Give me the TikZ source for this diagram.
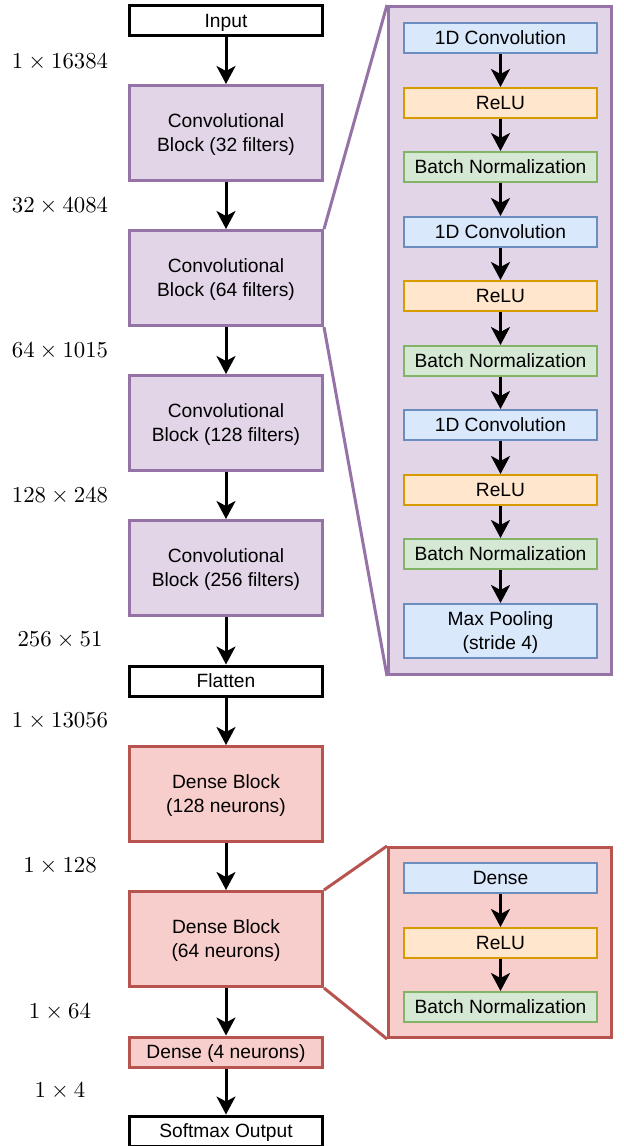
\RequirePackage{fix-cm}
\documentclass[tikz,border=0pt]{standalone}
\usepackage[no-math]{fontspec}
\setmainfont{Liberation Sans}
\usetikzlibrary{arrows.meta}

\definecolor{convfill}{HTML}{E1D5E7}
\definecolor{convline}{HTML}{9673A6}
\definecolor{densefill}{HTML}{F8CECC}
\definecolor{denseline}{HTML}{B85450}
\definecolor{opfill}{HTML}{DAE8FC}
\definecolor{opline}{HTML}{6C8EBF}
\definecolor{relufill}{HTML}{FFE6CC}
\definecolor{reluline}{HTML}{D79B00}
\definecolor{bnfill}{HTML}{D5E8D4}
\definecolor{bnline}{HTML}{82B366}

\begin{document}
\begin{tikzpicture}[x=0.5pt, y=-0.5pt, font={\fontsize{9.6}{12}\selectfont},
every node/.style={inner sep=0pt, align=center},
io/.style={draw, fill=white, line width=1.5pt, minimum width=96.5pt, minimum height=15pt, text depth=0pt},
conv/.style={io, fill=convfill, draw=convline, minimum height=47.5pt},
dense/.style={io, fill=densefill, draw=denseline, minimum height=47.5pt},
panel/.style={draw, line width=1.5pt, minimum width=111.5pt},
layer/.style={draw, line width=0.8pt, minimum width=96.5pt, minimum height=15.2pt, text depth=0pt},
dims/.style={font={\fontsize{11.4}{13}\selectfont}},
]
\useasboundingbox (0,0) rectangle (623,1146);

% main column
\path
(226,20.5) node[io] (in) {Input}
(226,133) node[conv] (c1) {Convolutional\\Block (32 filters)}
(226,278) node[conv] (c2) {Convolutional\\Block (64 filters)}
(226,423) node[conv] (c3) {Convolutional\\Block (128 filters)}
(226,568) node[conv] (c4) {Convolutional\\Block (256 filters)}
(226,681) node[io] (flat) {Flatten}
(226,794) node[dense] (d1) {Dense Block\\(128 neurons)}
(226,939) node[dense] (d2) {Dense Block\\(64 neurons)}
(226,1052) node[io, fill=densefill, draw=denseline] (d3) {Dense (4 neurons)}
(226,1131) node[io] (out) {Softmax Output}
;

% tensor shapes
\path
(60,62) node[dims] (s0) {$1\times16384$}
(60,206) node[dims] (s1) {$32\times4084$}
(60,351) node[dims] (s2) {$64\times1015$}
(60,496) node[dims] (s3) {$128\times248$}
(60,640) node[dims] (s4) {$256\times51$}
(60,721) node[dims] (s5) {$1\times13056$}
(60,866) node[dims] (s6) {$1\times128$}
(60,1012) node[dims] (s7) {$1\times64$}
(60,1091) node[dims] (s8) {$1\times4$}
;

% convolutional block detail
\node[panel, fill=convfill, draw=convline, minimum height=334pt] (cp) at (500,340.5) {};
\path
(500.5,38) node[layer, fill=opfill, draw=opline] (k1) {1D Convolution}
(500.5,103) node[layer, fill=relufill, draw=reluline] (r1) {ReLU}
(500.5,167) node[layer, fill=bnfill, draw=bnline] (b1) {Batch Normalization}
(500.5,232) node[layer, fill=opfill, draw=opline] (k2) {1D Convolution}
(500.5,296) node[layer, fill=relufill, draw=reluline] (r2) {ReLU}
(500.5,361) node[layer, fill=bnfill, draw=bnline] (b2) {Batch Normalization}
(500.5,425) node[layer, fill=opfill, draw=opline] (k3) {1D Convolution}
(500.5,490) node[layer, fill=relufill, draw=reluline] (r3) {ReLU}
(500.5,554) node[layer, fill=bnfill, draw=bnline] (b3) {Batch Normalization}
(500.5,631) node[layer, fill=opfill, draw=opline, minimum height=27.2pt] (mp) {Max Pooling\\(stride 4)}
;

% dense block detail
\node[panel, fill=densefill, draw=denseline, minimum height=95pt] (dp) at (500,942.5) {};
\path
(500.5,878) node[layer, fill=opfill, draw=opline] (f1) {Dense}
(500.5,943) node[layer, fill=relufill, draw=reluline] (f2) {ReLU}
(500.5,1007) node[layer, fill=bnfill, draw=bnline] (f3) {Batch Normalization}
;

% zoom lines
\draw[convline, line width=1.5pt] (c2.north east) -- (cp.north west);
\draw[convline, line width=1.5pt] (c2.south east) -- (cp.south west);
\draw[denseline, line width=1.5pt] (d2.north east) -- (dp.north west);
\draw[denseline, line width=1.5pt] (d2.south east) -- (dp.south west);

\begin{scope}[-{Stealth[length=9pt, width=9.5pt, inset=2.5pt]}, line width=1.5pt]
\draw (in) -- (c1);
\draw (c1) -- (c2);
\draw (c2) -- (c3);
\draw (c3) -- (c4);
\draw (c4) -- (flat);
\draw (flat) -- (d1);
\draw (d1) -- (d2);
\draw (d2) -- (d3);
\draw (d3) -- (out);
\draw (k1) -- (r1);
\draw (r1) -- (b1);
\draw (b1) -- (k2);
\draw (k2) -- (r2);
\draw (r2) -- (b2);
\draw (b2) -- (k3);
\draw (k3) -- (r3);
\draw (r3) -- (b3);
\draw (b3) -- (mp);
\draw (f1) -- (f2);
\draw (f2) -- (f3);
\end{scope}

\end{tikzpicture}
\end{document}
